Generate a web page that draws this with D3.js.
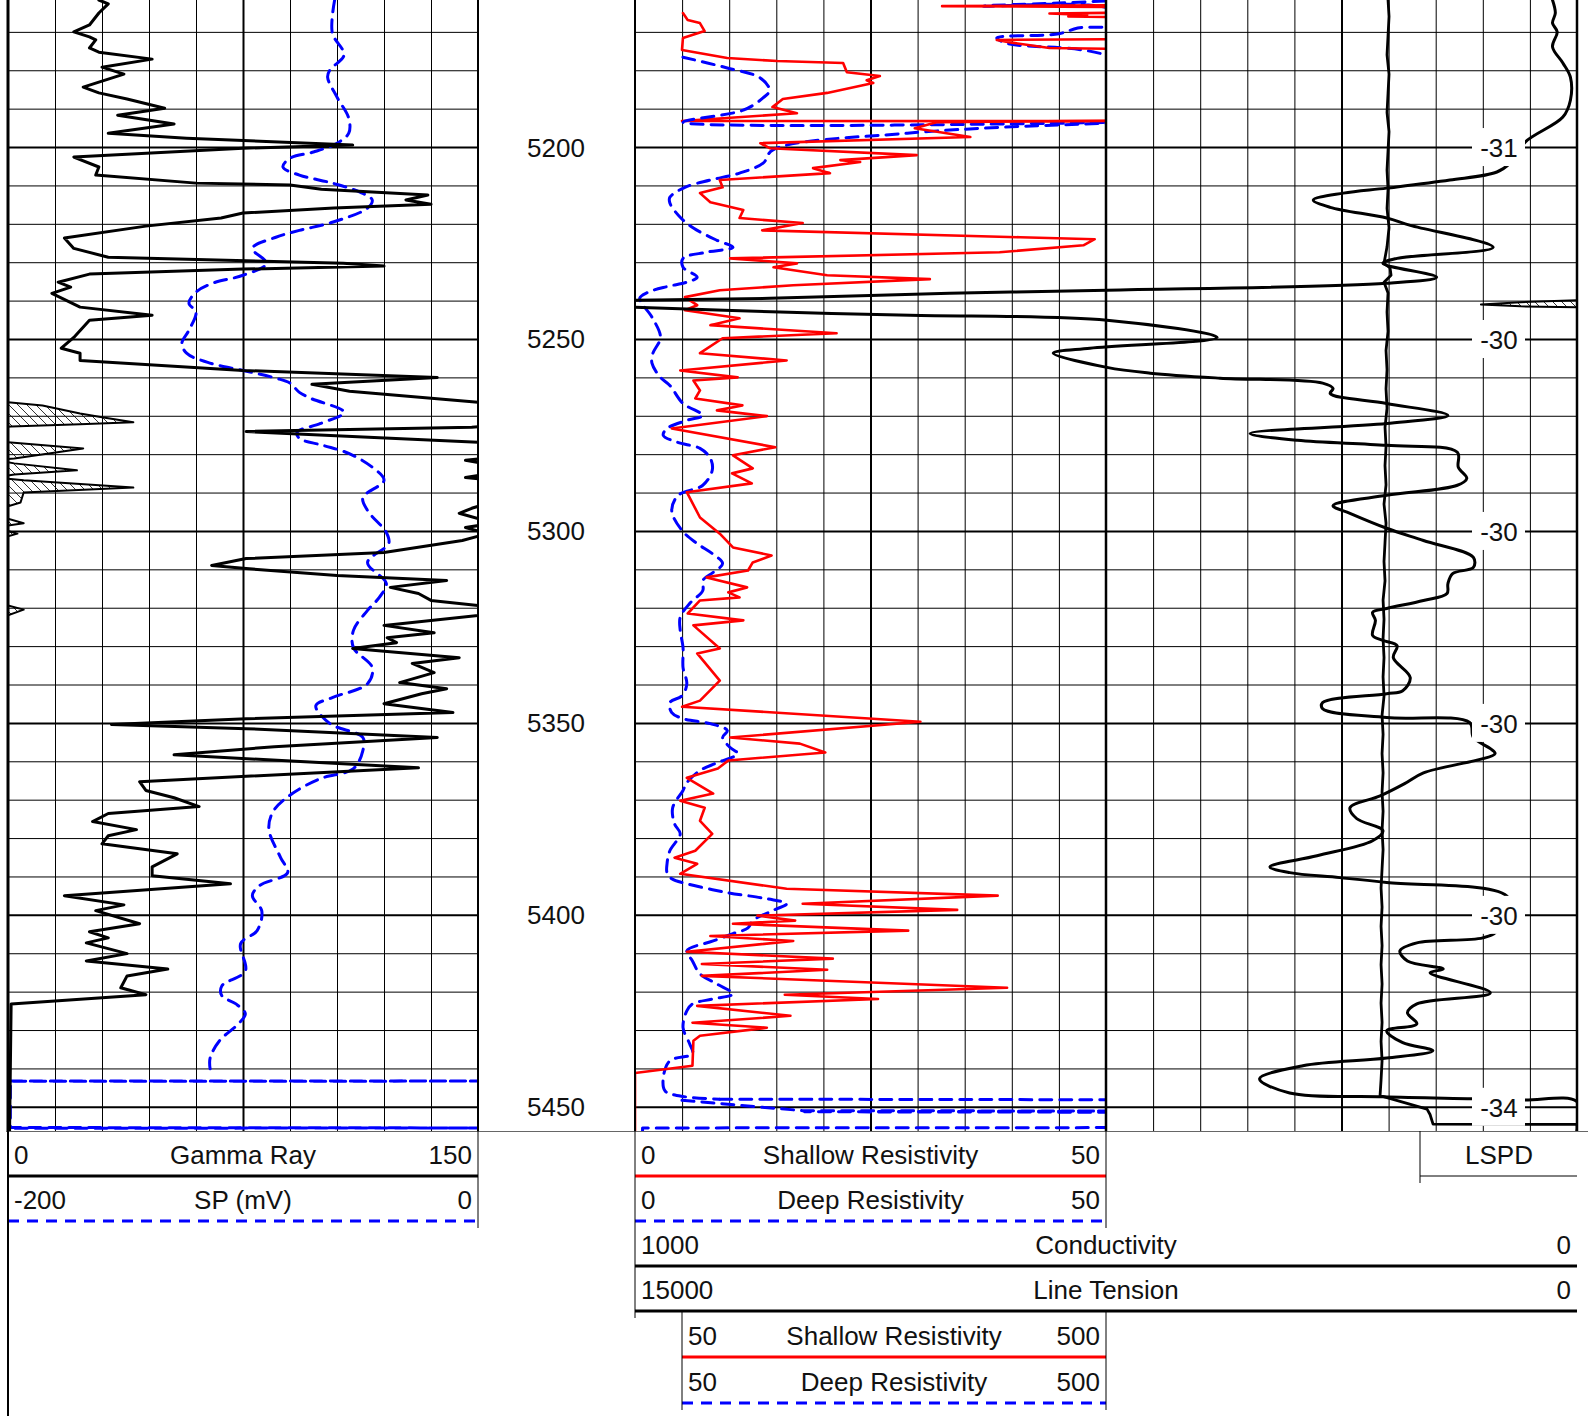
<!DOCTYPE html>
<html>
<head>
<meta charset="utf-8">
<script src="https://cdn.jsdelivr.net/npm/d3@7"></script>
<style>
  html, body { margin: 0; padding: 0; background: #fff; }
  svg { display: block; font-family: "Liberation Sans", Arial, sans-serif; }
</style>
</head>
<body>
<svg id="log" width="1588" height="1416"></svg>
<script>
(function () {
  "use strict";

  // depth window and labelled depths
  const depthRange = [5161.7, 5456.3];
  const depthLabels = [5200, 5250, 5300, 5350, 5400, 5450];
  const lspdLabels = ["-31", "-30", "-30", "-30", "-30", "-34"];

  // [depth ft, API]  values above 150 wrap to the backup (hatched)
  const gammaRay = [
    [5161.7,29],[5162.7,32],[5165.1,29],[5168.2,26],[5170.0,21],[5171.3,26],[5172.1,28],[5174.2,26],[5175.3,29],[5177.1,46],
    [5179.2,30],[5181.0,37],[5184.4,24],[5185.9,29],[5187.5,38],[5189.9,50],[5191.7,35],[5194.0,53],[5196.4,32],[5197.7,57],
    [5199.5,110],[5200.3,75],[5202.6,21],[5205.2,29],[5207.3,28],[5209.4,60],[5209.9,90],[5211.0,100],[5212.5,134],[5213.8,127],
    [5214.9,135],[5215.9,104],[5217.2,75],[5218.5,68],[5220.6,44],[5223.7,18],[5226.4,21],[5228.7,32],[5230.3,107],[5231.0,120],
    [5231.8,75],[5233.1,26],[5235.2,16],[5236.5,20],[5238.1,14],[5241.7,23],[5243.8,46],[5245.1,26],[5249.6,21],[5252.4,17],
    [5253.7,23],[5255.6,23],[5258.2,75],[5260.0,137],[5261.8,97],[5263.6,109],[5266.5,150],[5267.3,161],[5269.4,173],[5270.4,180],
    [5271.7,190],[5272.2,173],[5272.8,151],[5273.0,148],[5274.1,76],[5276.4,136],[5276.9,150],[5278.5,174],[5281.1,152],[5281.6,146],
    [5282.4,152],[5284.2,172],[5285.3,152],[5286.1,146],[5286.8,155],[5288.7,190],[5290.0,155],[5292.6,154],[5294.1,148],[5295.4,144],
    [5296.8,150],[5298.0,155],[5299.1,146],[5300.7,153],[5302.5,145],[5305.6,120],[5307.2,76],[5309.0,65],[5309.8,76],[5311.6,105],
    [5312.9,140],[5314.7,122],[5316.3,131],[5318.1,135],[5319.4,150],[5320.5,155],[5322.0,150],[5324.6,120],[5326.5,136],[5327.8,121],
    [5329.1,124],[5330.6,110],[5333.0,144],[5334.5,129],[5336.9,136],[5339.5,125],[5341.1,140],[5342.4,132],[5345.0,120],[5347.3,142],
    [5348.9,76],[5350.4,33],[5351.5,76],[5353.8,137],[5356.2,85],[5358.3,53],[5361.7,131],[5365.3,42],[5367.6,44],[5369.5,53],
    [5371.8,61],[5373.6,32],[5375.7,27],[5377.8,41],[5379.4,32],[5381.5,30],[5384.1,54],[5387.5,46],[5389.8,46],[5391.9,71],
    [5395.0,18],[5397.4,37],[5398.9,28],[5402.3,42],[5404.4,26],[5406.0,32],[5407.3,25],[5410.1,38],[5412.0,25],[5414.1,51],
    [5415.9,38],[5419.0,36],[5420.8,44],[5423.2,1],[5456.3,0.5]
  ];

  // [depth ft, mV]
  const spontaneousPotential = [
    [5161.7,-61],[5170.3,-62],[5176.0,-57],[5179.9,-63],[5181.8,-64],[5187.0,-60],[5192.5,-55],[5196.4,-55],[5199.0,-60],[5201.3,-70],
    [5202.9,-80],[5205.2,-83],[5207.3,-76],[5209.4,-62],[5211.8,-50],[5213.8,-45],[5215.9,-47],[5219.6,-62],[5221.7,-76],[5223.5,-86],
    [5226.4,-96],[5230.3,-90],[5233.4,-100],[5235.5,-113],[5237.8,-120],[5240.7,-123],[5243.0,-120],[5247.7,-123],[5251.1,-126],[5253.7,-124],
    [5256.1,-115],[5258.2,-100],[5260.2,-86],[5261.5,-80],[5263.9,-76],[5265.5,-71],[5269.1,-57],[5272.0,-67],[5274.3,-77],[5275.9,-76],
    [5277.7,-66],[5279.8,-55],[5283.4,-45],[5286.8,-40],[5291.3,-49],[5294.7,-47],[5300.4,-39],[5303.3,-38],[5308.2,-47],[5313.7,-39],
    [5317.3,-42],[5320.7,-47],[5325.9,-53],[5330.4,-53],[5335.6,-45],[5339.8,-47],[5343.4,-62],[5345.5,-69],[5350.2,-63],[5353.8,-49],
    [5357.2,-49],[5361.9,-53],[5364.5,-67],[5368.4,-79],[5372.9,-87],[5377.6,-89],[5385.1,-84],[5389.0,-81],[5392.4,-93],[5395.0,-96],
    [5399.0,-92],[5404.1,-94],[5407.5,-101],[5414.6,-99],[5418.5,-109],[5421.1,-109],[5423.2,-103],[5425.8,-99],[5428.4,-102],[5432.8,-110],
    [5437.3,-114],[5440.1,-114]
  ];
  // SP below the last reading: swings across the full track
  const spBottom = [
    [5443.25,-199],[5443.3,0],[5443.35,-199],[5455.4,-199],[5455.5,0],[5455.6,-199]
  ];

  // [depth ft, ohm.m] main 0-50 scale (values past 50 run along the edge)
  const shallowRes = [
    [5161.7,60],[5163.0,60],[5163.3,32.6],[5163.6,60],[5164.8,60],[5165.2,44],[5165.6,48],[5166.0,46],[5166.4,60],[5171.8,60],
    [5172.1,38.4],[5172.8,40],[5174.2,44],[5174.7,60],[5193.0,60],[5193.5,32.1],[5195.1,29.7],[5197.4,35.6],[5199.0,13.3],[5200.3,14.3],
    [5202.1,29.9],[5203.4,21.8],[5203.9,23.9],[5205.5,18.9],[5206.8,20.7],[5208.6,9.0],[5210.5,9.3],[5212.0,6.9],[5214.4,8.0],[5216.4,11.5],
    [5218.5,11.1],[5219.8,17.8],[5221.7,13.5],[5223.5,40.9],[5224.0,48.8],[5225.6,47.6],[5227.4,38.7],[5229.0,10.1],[5230.3,17.2],[5231.3,14.7],
    [5233.4,20.4],[5234.4,31.3],[5236.0,16.8],[5237.3,9.0],[5239.1,5.3],[5241.2,6.6],[5242.5,5.3],[5244.6,11.1],[5246.4,8.0],[5248.5,21.4],
    [5249.8,9.3],[5253.7,6.9],[5255.6,16.1],[5258.2,4.8],[5260.0,10.9],[5260.8,6.2],[5263.4,6.9],[5265.5,6.4],[5267.3,11.4],[5268.6,8.7],
    [5270.1,14.0],[5273.3,3.9],[5278.2,14.9],[5280.3,10.4],[5283.7,12.5],[5285.0,10.3],[5287.6,12.4],[5289.9,5.5],[5296.5,6.9],[5300.7,9.0],
    [5304.3,10.4],[5306.4,14.5],[5308.2,12.5],[5310.3,12.0],[5312.1,7.6],[5314.7,11.9],[5316.0,9.9],[5317.3,11.1],[5318.1,6.9],[5321.5,5.6],
    [5323.3,11.5],[5324.6,6.2],[5330.6,9.0],[5331.9,6.6],[5339.0,9.0],[5344.2,6.9],[5345.8,5.0],[5349.7,30.3],[5353.8,10.1],[5355.4,17.5],
    [5357.7,20.2],[5359.8,9.9],[5361.9,8.8],[5364.3,5.5],[5368.4,8.3],[5370.3,4.8],[5372.1,7.4],[5375.5,6.9],[5378.9,8.2],[5383.3,6.4],
    [5385.1,4.2],[5386.7,6.6],[5389.3,4.8],[5393.2,16.1],[5395.0,38.5],[5397.1,17.8],[5398.7,34.2],[5400.2,13.0],[5401.5,17.0],[5402.3,10.4],
    [5404.1,29.0],[5405.5,8.0],[5406.8,16.8],[5409.6,5.5],[5411.4,21.0],[5412.8,7.1],[5414.3,20.4],[5415.9,7.1],[5419.0,39.5],[5420.8,15.9],
    [5421.9,25.8],[5423.7,6.6],[5426.3,16.5],[5428.1,6.1],[5429.4,14.0],[5431.5,6.9],[5432.8,6.2],[5439.3,6.1],[5441.2,0],[5456.3,0]
  ];

  const deepRes = [
    [5161.7,52],[5162.5,45],[5163.3,37],[5164.2,50.5],[5168.0,51],[5169.0,47],[5170.5,45],[5171.6,38.4],[5173.0,39.5],[5176.5,50.5],
    [5193.5,60],[5193.8,50.2],[5196.4,28.9],[5200.8,14.6],[5204.2,13.6],[5206.8,11.1],[5208.6,8.0],[5210.5,5.3],[5213.1,3.7],[5214.6,3.7],
    [5218.3,4.8],[5221.1,6.2],[5224.3,8.7],[5226.1,10.4],[5227.4,7.6],[5229.0,5.1],[5231.3,5.1],[5233.9,6.6],[5235.2,5.5],[5236.3,3.5],
    [5237.8,1.4],[5239.4,0.5],[5244.3,1.8],[5249.6,2.7],[5253.7,1.9],[5256.3,1.8],[5260.0,2.7],[5262.1,3.7],[5266.8,5.1],[5269.9,7.2],
    [5271.2,5.5],[5273.3,3.4],[5275.1,3.0],[5276.9,4.5],[5278.5,6.9],[5281.1,8.0],[5284.2,8.2],[5288.1,7.2],[5290.7,4.6],[5294.7,3.9],
    [5299.9,5.0],[5303.3,6.6],[5305.9,8.2],[5308.5,9.3],[5310.8,8.3],[5312.9,7.2],[5315.5,7.2],[5318.9,5.8],[5322.5,4.8],[5325.9,4.8],
    [5330.4,5.1],[5335.6,5.1],[5339.8,5.5],[5342.9,5.0],[5344.7,3.7],[5347.3,3.9],[5348.9,5.1],[5350.2,8.0],[5352.0,9.8],[5353.8,9.3],
    [5356.4,10.1],[5358.0,10.9],[5360.4,8.7],[5362.4,6.9],[5365.6,5.5],[5367.6,5.1],[5372.1,4.0],[5376.3,4.2],[5378.9,4.8],[5383.3,3.7],
    [5386.7,3.4],[5389.0,3.4],[5390.6,3.9],[5391.9,5.5],[5394.2,9.8],[5395.8,14.0],[5397.1,16.1],[5398.9,14.6],[5401.5,12.5],[5403.4,12.0],
    [5404.9,10.4],[5406.8,8.3],[5409.4,5.5],[5412.0,6.1],[5415.4,6.9],[5418.0,8.7],[5420.6,10.4],[5421.9,8.3],[5423.2,6.1],[5425.0,5.5],
    [5429.4,5.1],[5433.6,5.8],[5436.2,6.1],[5438.0,3.7],[5442.5,3.0],[5445.9,3.2],[5447.2,4.8],[5448.0,9.0]
  ];
  // deep reading leaving the scale near the bottom of the interval
  const deepTail = [
    [5448.0,9.0],[5448.2,60],[5455.4,60],[5455.5,0.8],[5456.3,0.8]
  ];

  // backup presentations on the 50-500 scale
  const shallowBackup = [
    [5165.1,51],[5166.9,56],[5167.7,69],[5169.8,74],[5171.6,51],[5174.7,50],[5176.8,98],[5177.6,151],[5178.1,221],[5180.5,225],
    [5181.5,260],[5182.6,246],[5183.3,253],[5185.9,204],[5187.5,157],[5189.6,146],[5191.2,172],[5193.2,50],[5193.25,500]
  ];
  const deepBackupTop = [
    [5176.6,51],[5179.4,98],[5182.0,133],[5185.2,143],[5187.2,136],[5190.4,115],[5193.5,51],[5193.6,500]
  ];
  const deepBackupBottom = [
    [5448.3,50],[5451.0,178],[5451.1,500],[5451.3,180],[5451.4,500]
  ];

  // [depth ft, mmho] 1000 -> 0 ; values past 1000 wrap (hatched)
  const conductivity = [
    [5161.7,26],[5165.1,23],[5167.7,26],[5170.0,21],[5173.9,26],[5178.1,15],[5181.8,7],[5187.8,7],[5192.2,15],[5198.7,55],
    [5204.2,71],[5206.5,85],[5208.6,135],[5210.7,202],[5212.0,248],[5213.8,280],[5215.7,262],[5218.5,202],[5220.4,177],[5226.1,89],
    [5229.0,191],[5230.3,206],[5233.9,149],[5235.5,202],[5237.3,499],[5238.1,666],[5239.4,857],[5239.9,1000],[5240.4,1060],[5241.0,1102],
    [5241.5,1060],[5241.7,1000],[5243.0,846],[5243.8,708],[5245.1,499],[5249.6,382],[5252.4,517],[5253.7,556],[5257.4,499],[5258.9,453],
    [5260.2,379],[5261.5,270],[5262.9,259],[5264.2,262],[5266.8,202],[5269.9,137],[5272.0,202],[5274.6,347],[5276.4,297],[5277.7,202],
    [5279.5,127],[5283.4,126],[5286.3,117],[5288.1,127],[5290.7,202],[5293.4,259],[5295.4,241],[5299.3,202],[5302.5,163],[5306.9,110],
    [5309.5,110],[5311.1,132],[5313.7,137],[5316.3,138],[5318.1,163],[5320.2,202],[5321.2,217],[5323.3,214],[5327.2,217],[5328.5,206],
    [5329.9,191],[5333.0,195],[5338.2,177],[5341.6,185],[5342.4,202],[5344.7,270],[5346.3,270],[5348.6,202],[5349.9,114],[5353.8,110],
    [5356.7,92],[5358.0,87],[5363.0,163],[5365.8,183],[5369.0,209],[5372.1,241],[5374.9,234],[5378.1,206],[5380.7,217],[5384.6,276],
    [5387.5,326],[5389.0,305],[5390.3,252],[5391.6,202],[5395.5,73],[5404.2,85],[5406.0,100],[5407.3,170],[5409.4,188],[5412.0,180],
    [5414.1,142],[5415.1,156],[5420.3,92],[5423.2,170],[5425.5,180],[5428.4,170],[5430.2,202],[5433.3,185],[5435.4,153],[5437.3,202],
    [5439.3,291],[5442.7,337],[5446.4,305],[5447.4,206],[5447.9,111],[5448.2,57],[5448.7,0],[5456.3,0]
  ];

  // [depth ft, lb] 15000 -> 0
  const lineTension = [
    [5161.7,3009],[5166,2993],[5171,3009],[5176,3025],[5181,2993],[5186,3009],[5191,3025],[5196,2993],[5201,3009],[5206,3025],
    [5211,3009],[5216,3025],[5221,2993],[5226,3025],[5230.3,3073],[5231.5,2977],[5233.4,2961],[5235.2,3073],[5238,3009],[5243,3025],
    [5248,3009],[5253,3041],[5258,3025],[5263,3041],[5268,3025],[5273,3057],[5278,3041],[5283,3057],[5288,3041],[5293,3073],
    [5298,3041],[5303,3057],[5308,3073],[5313,3057],[5318,3088],[5323,3073],[5328,3088],[5333,3073],[5338,3088],[5343,3073],
    [5348,3104],[5353,3088],[5358,3104],[5363,3088],[5368,3104],[5373,3088],[5378,3104],[5383,3088],[5388,3104],[5393,3120],
    [5398,3104],[5403,3120],[5408,3104],[5413,3120],[5418,3104],[5423,3120],[5428,3104],[5433,3120],[5438,3104],[5443,3120],
    [5447.1,3136],[5450.6,2388],[5452.0,2340],[5454.5,2292],[5454.6,0],[5456.3,0]
  ];

  const svg = d3.select("#log");
  const plotBottom = 1131;
  const tracks = {
    gr: { x0: 8, x1: 478 },
    res: { x0: 635, x1: 1106 },
    right: { x0: 1106, x1: 1577 },
    wide: { x0: 635, x1: 1577 }
  };

  const y = d3.scaleLinear().domain(depthRange).range([0, plotBottom]);
  const grX = d3.scaleLinear().domain([0, 150]).range([tracks.gr.x0, tracks.gr.x1]);
  const spX = d3.scaleLinear().domain([-200, 0]).range([tracks.gr.x0, tracks.gr.x1]);
  const resX = d3.scaleLinear().domain([0, 50]).range([tracks.res.x0, tracks.res.x1]);
  const resBackX = d3.scaleLinear().domain([50, 500]).range([682, 1106]);
  const condX = d3.scaleLinear().domain([1000, 0]).range([tracks.wide.x0, tracks.wide.x1]);
  const tensX = d3.scaleLinear().domain([15000, 0]).range([tracks.wide.x0, tracks.wide.x1]);

  const DASH = "12,8";
  const smooth = d3.curveCatmullRom.alpha(0.5);

  const defs = svg.append("defs");
  Object.entries(tracks).forEach(([k, t]) => {
    defs.append("clipPath").attr("id", "clip-" + k)
      .append("rect").attr("x", t.x0).attr("y", 0).attr("width", t.x1 - t.x0).attr("height", plotBottom);
  });
  const hatch = defs.append("pattern").attr("id", "hatch")
    .attr("patternUnits", "userSpaceOnUse").attr("width", 9).attr("height", 9);
  hatch.append("path").attr("d", "M-1,-1L10,10M-1,8L1,10M8,-1L10,1")
    .attr("stroke", "#000").attr("stroke-width", 0.8);

  // ---- grid (axes used as grid lines) ----
  const gridG = svg.append("g").attr("class", "grid");
  [tracks.gr, tracks.res, tracks.right].forEach((t) => {
    const gx = d3.scaleLinear().domain([0, 10]).range([t.x0, t.x1]);
    const vx = gridG.append("g").attr("transform", `translate(0,${plotBottom})`)
      .call(d3.axisTop(gx).tickValues(d3.range(1, 10)).tickSize(plotBottom).tickFormat(""));
    vx.select(".domain").remove();
    vx.selectAll(".tick line").attr("stroke", "#000")
      .attr("stroke-width", (d) => (d === 5 ? 2 : 1));

    const gy = gridG.append("g").attr("transform", `translate(${t.x0},0)`)
      .call(d3.axisRight(y).tickValues(d3.range(5170, 5451, 10)).tickSize(t.x1 - t.x0).tickFormat(""));
    gy.select(".domain").remove();
    gy.selectAll(".tick line").attr("stroke", "#000")
      .attr("stroke-width", (d) => (d % 50 === 0 ? 2 : 1));
  });

  // ---- helpers ----
  function wrapSegments(data, limit) {
    const segs = [];
    let cur = null;
    data.forEach((p, i) => {
      const prev = data[i - 1];
      if (p[1] >= limit) {
        if (!cur) {
          cur = [];
          if (prev) {
            const t = (limit - prev[1]) / (p[1] - prev[1]);
            cur.push([prev[0] + t * (p[0] - prev[0]), limit]);
          }
        }
        cur.push(p);
      } else if (cur) {
        const t = (limit - prev[1]) / (p[1] - prev[1]);
        cur.push([prev[0] + t * (p[0] - prev[0]), limit]);
        segs.push(cur);
        cur = null;
      }
    });
    if (cur) segs.push(cur);
    return segs;
  }

  function drawCurve(data, xs, clip, stroke, width, dash, curve) {
    const gen = d3.line().x((p) => xs(p[1])).y((p) => y(p[0])).curve(curve || d3.curveLinear);
    svg.append("path").datum(data)
      .attr("clip-path", `url(#clip-${clip})`)
      .attr("d", gen)
      .attr("fill", "none")
      .attr("stroke", stroke)
      .attr("stroke-width", width)
      .attr("stroke-linejoin", "round")
      .attr("stroke-linecap", "round")
      .attr("stroke-dasharray", dash || null);
  }

  // ---- track 1 ----
  wrapSegments(gammaRay, 150).forEach((seg) => {
    const pts = seg.map((p) => [p[0], p[1] - 150]);
    svg.append("path").datum(pts)
      .attr("clip-path", "url(#clip-gr)")
      .attr("d", d3.area().y((p) => y(p[0])).x0(tracks.gr.x0).x1((p) => grX(p[1])))
      .attr("fill", "url(#hatch)");
    drawCurve(pts, grX, "gr", "#000", 2);
  });
  drawCurve(spontaneousPotential, spX, "gr", "#0000ff", 3, DASH, smooth);
  drawCurve(spBottom, spX, "gr", "#0000ff", 3, DASH);
  drawCurve(gammaRay, grX, "gr", "#000", 3);

  // ---- resistivity ----
  drawCurve(shallowBackup, resBackX, "res", "#ff0000", 2.6);
  drawCurve(deepBackupTop, resBackX, "res", "#0000ff", 3, DASH, smooth);
  drawCurve(deepBackupBottom, resBackX, "res", "#0000ff", 3, DASH);
  drawCurve(deepRes, resX, "res", "#0000ff", 3, DASH, smooth);
  drawCurve(deepTail, resX, "res", "#0000ff", 3, DASH);
  drawCurve(shallowRes, resX, "res", "#ff0000", 2.6);

  // ---- conductivity + tension across tracks 2-3 ----
  wrapSegments(conductivity, 1000).forEach((seg) => {
    const pts = seg.map((p) => [p[0], p[1] - 1000]);
    svg.append("path").datum(pts)
      .attr("clip-path", "url(#clip-wide)")
      .attr("d", d3.area().y((p) => y(p[0])).x0(tracks.wide.x1).x1((p) => condX(p[1])))
      .attr("fill", "url(#hatch)");
    drawCurve(pts, condX, "wide", "#000", 2);
  });
  drawCurve(conductivity, condX, "wide", "#000", 3, null, smooth);
  drawCurve(lineTension, tensX, "wide", "#000", 2.8);

  // ---- track borders ----
  const borders = svg.append("g");
  [[8, 3], [478, 2], [635, 2], [1106, 2.5], [1577, 2.5]].forEach(([x, w]) => {
    borders.append("line").attr("x1", x).attr("x2", x).attr("y1", 0).attr("y2", plotBottom)
      .attr("stroke", "#000").attr("stroke-width", w);
  });

  // ---- depth column ----
  svg.append("g").selectAll("text").data(depthLabels).join("text")
    .attr("x", 556).attr("y", (d) => y(d) + 9.5)
    .attr("text-anchor", "middle").attr("font-size", 26).attr("fill", "#111")
    .text((d) => d);

  // ---- LSPD annotations ----
  const lspd = svg.append("g");
  depthLabels.forEach((d, i) => {
    lspd.append("rect").attr("x", 1472).attr("y", y(d) - 19).attr("width", 53).attr("height", 38)
      .attr("fill", "#fff");
    lspd.append("text").attr("x", 1499).attr("y", y(d) + 10)
      .attr("text-anchor", "middle").attr("font-size", 26).attr("fill", "#111")
      .text(lspdLabels[i]);
  });

  // ---- header ----
  const head = svg.append("g").attr("font-size", 26).attr("fill", "#111");
  head.append("line").attr("x1", 6).attr("x2", 1588).attr("y1", plotBottom + 0.5).attr("y2", plotBottom + 0.5)
    .attr("stroke", "#666").attr("stroke-width", 1);

  const headerRows = [
    { x0: 8, x1: 478, line: 1176, l: "0", t: "Gamma Ray", r: "150", c: "#000" },
    { x0: 8, x1: 478, line: 1221, l: "-200", t: "SP (mV)", r: "0", c: "#0000ff", dash: "11,8" },
    { x0: 635, x1: 1106, line: 1176, l: "0", t: "Shallow Resistivity", r: "50", c: "#ff0000" },
    { x0: 635, x1: 1106, line: 1221, l: "0", t: "Deep Resistivity", r: "50", c: "#0000ff", dash: "11,8" },
    { x0: 635, x1: 1577, line: 1266, l: "1000", t: "Conductivity", r: "0", c: "#000" },
    { x0: 635, x1: 1577, line: 1311, l: "15000", t: "Line Tension", r: "0", c: "#000" },
    { x0: 682, x1: 1106, line: 1357, l: "50", t: "Shallow Resistivity", r: "500", c: "#ff0000" },
    { x0: 682, x1: 1106, line: 1403, l: "50", t: "Deep Resistivity", r: "500", c: "#0000ff", dash: "11,8" }
  ];
  headerRows.forEach((h) => {
    const base = h.line - 12;
    head.append("text").attr("x", h.x0 + 6).attr("y", base).text(h.l);
    head.append("text").attr("x", (h.x0 + h.x1) / 2).attr("y", base).attr("text-anchor", "middle").text(h.t);
    head.append("text").attr("x", h.x1 - 6).attr("y", base).attr("text-anchor", "end").text(h.r);
    head.append("line").attr("x1", h.x0).attr("x2", h.x1).attr("y1", h.line).attr("y2", h.line)
      .attr("stroke", h.c).attr("stroke-width", 3).attr("stroke-dasharray", h.dash || null);
  });
  head.append("text").attr("x", 1499).attr("y", 1164).attr("text-anchor", "middle").text("LSPD");

  const headLines = [
    [8, plotBottom, 8, 1416, 2],
    [478, plotBottom, 478, 1228, 1],
    [635, plotBottom, 635, 1318, 1],
    [1106, plotBottom, 1106, 1228, 1],
    [682, 1311, 682, 1410, 1],
    [1106, 1311, 1106, 1410, 1],
    [1420, plotBottom, 1420, 1183, 1],
    [1420, 1176, 1577, 1176, 1]
  ];
  headLines.forEach(([x1, y1, x2, y2, w]) => {
    head.append("line").attr("x1", x1).attr("y1", y1).attr("x2", x2).attr("y2", y2)
      .attr("stroke", "#000").attr("stroke-width", w);
  });
})();
</script>
</body>
</html>
